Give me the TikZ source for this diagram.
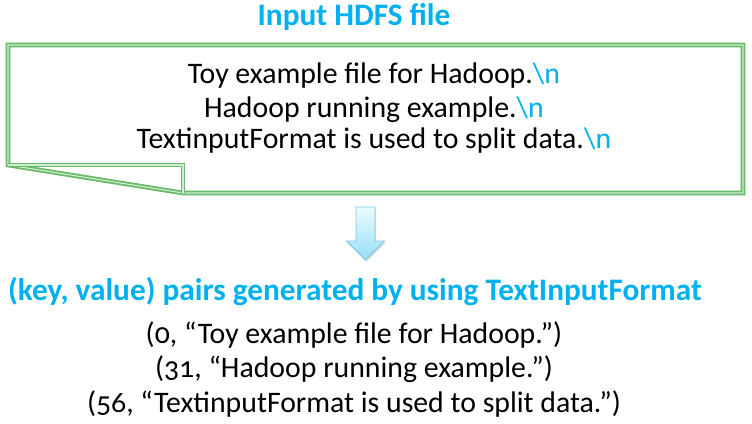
\documentclass[tikz,border=0pt]{standalone}
\usepackage{fontspec}
\setmainfont{Carlito}[Numbers=OldStyle]
\usetikzlibrary{shadows}
\definecolor{hcyan}{RGB}{0,176,240}
\definecolor{boxgreen}{RGB}{104,186,104}
\definecolor{boxlight}{RGB}{210,236,210}
\definecolor{arrowtop}{RGB}{235,251,255}
\definecolor{arrowbot}{RGB}{150,222,245}
\definecolor{arrowedge}{RGB}{125,200,228}
\newcommand{\nl}{\textcolor{hcyan}{\textbackslash n}}
\tikzset{
  titletext/.style={font=\fontsize{31.3}{36}\selectfont\bfseries, text=hcyan, inner sep=0pt, anchor=base},
  bodytext/.style={font=\fontsize{29.8}{34}\selectfont, text=black, inner sep=0pt, anchor=base},
  fileborder/.style={draw=boxgreen, double=boxlight, double distance=1.1pt, line width=1.8pt, line join=miter},
  blockarrow/.style={draw=arrowedge, line width=0.8pt, top color=arrowtop, bottom color=arrowbot,
    drop shadow={opacity=0.25, shadow xshift=1pt, shadow yshift=-2pt}}
}
\begin{document}
\begin{tikzpicture}[x=1pt,y=-1pt]
\useasboundingbox (0,0) rectangle (752,423);
% input file shape
\coordinate (tl) at (8,45);
\coordinate (tr) at (743,45);
\coordinate (br) at (743,193);
\coordinate (fb) at (183,193);
\coordinate (fc) at (183,165);
\coordinate (bl) at (8,165);
\draw[fileborder, fill=white] (tl) -- (tr) -- (br) -- (fb) -- (bl) -- cycle;
\draw[fileborder] (bl) -- (fc) -- (fb);
\node[titletext] (t1) at (354,25) {Input HDFS file};
\node[bodytext] (l1) at (374,83) {Toy example file for Hadoop.\nl};
\node[bodytext] (l2) at (374,117) {Hadoop running example.\nl};
\node[bodytext] (l3) at (374,148) {TextinputFormat is used to split data.\nl};
% down arrow
\draw[blockarrow] (356,207) -- (375,207) -- (375,241) -- (384.5,241) -- (365.5,260) -- (346.5,241) -- (356,241) -- cycle;
\node[titletext] (t2) at (355,300) {(key, value) pairs generated by using TextInputFormat};
\node[bodytext] (p1) at (354,343) {(0, “Toy example file for Hadoop.”)};
\node[bodytext] (p2) at (354,377) {(31, “Hadoop running example.”)};
\node[bodytext] (p3) at (354,412) {(56, “TextinputFormat is used to split data.”)};
\end{tikzpicture}
\end{document}
